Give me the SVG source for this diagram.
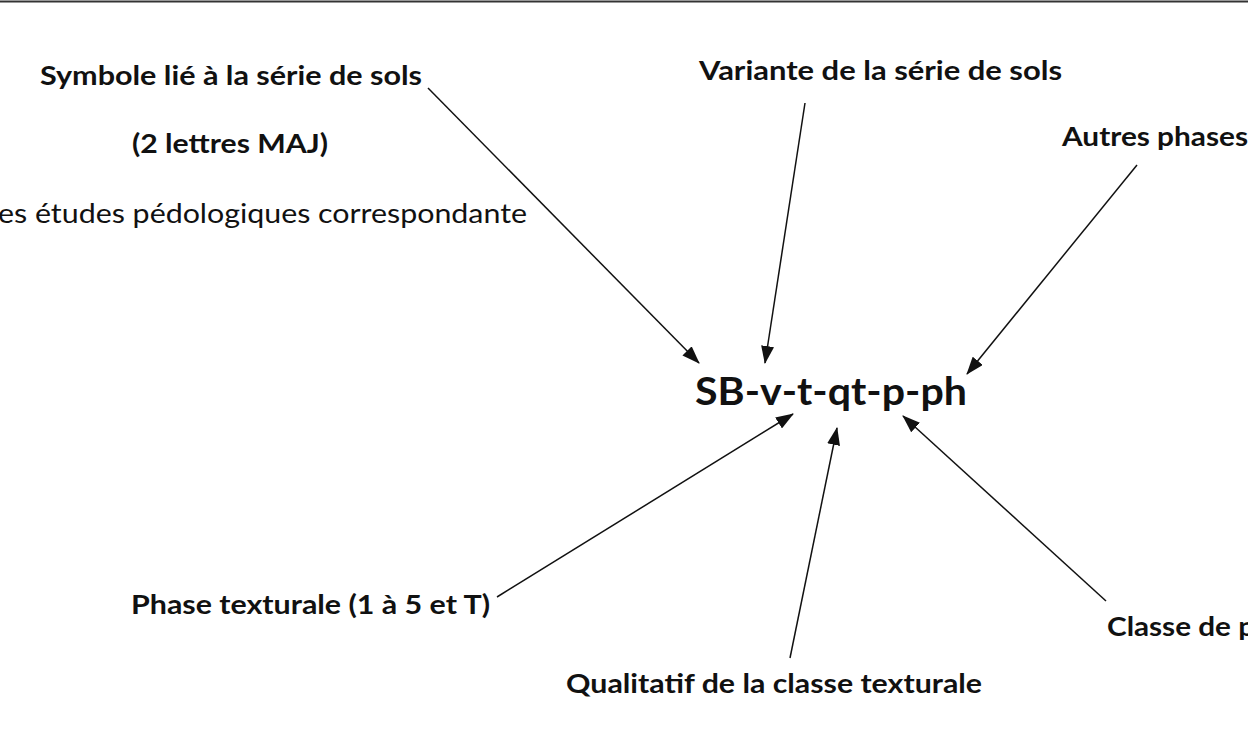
<svg xmlns="http://www.w3.org/2000/svg" width="1248" height="729" viewBox="0 0 1248 729">
<style>
.b{font-family:Lato,"Liberation Sans",sans-serif;font-weight:bold;font-size:26px;fill:#111}
.r{font-family:Lato,"Liberation Sans",sans-serif;font-size:26px;fill:#111}
.c{stroke:#111;stroke-width:1.5;fill:none;marker-end:url(#ah)}
</style>
<defs>
<marker id="ah" markerWidth="18" markerHeight="13" refX="17" refY="6.5" orient="auto" markerUnits="userSpaceOnUse" viewBox="0 0 18 13">
<path d="M0,0 L18,6.5 L0,13 Z" fill="#111"/>
</marker>
</defs>
<rect width="1248" height="729" fill="#fff"/>
<line x1="0" y1="1.5" x2="1248" y2="1.5" stroke="#333" stroke-width="2"/>
<g id="connectors">
<line class="c" x1="428" y1="88" x2="699" y2="363"/>
<line class="c" x1="805" y1="103" x2="765" y2="363"/>
<line class="c" x1="1137" y1="165" x2="967" y2="374"/>
<line class="c" x1="497" y1="597" x2="793" y2="414"/>
<line class="c" x1="790" y1="658" x2="837" y2="428"/>
<line class="c" x1="1106" y1="601" x2="903" y2="416"/>
</g>
<g id="node-symbole">
<text class="b" x="40" y="85" textLength="382" lengthAdjust="spacingAndGlyphs">Symbole lié à la série de sols</text>
<text class="b" x="132" y="153" textLength="196" lengthAdjust="spacingAndGlyphs">(2 lettres MAJ)</text>
<text class="r" x="527" y="223" text-anchor="end" textLength="529" lengthAdjust="spacingAndGlyphs">es études pédologiques correspondante</text>
</g>
<g id="node-variante">
<text class="b" x="699" y="80" textLength="363" lengthAdjust="spacingAndGlyphs">Variante de la série de sols</text>
</g>
<g id="node-autres">
<text class="b" x="1062" y="146" textLength="186" lengthAdjust="spacingAndGlyphs">Autres phases</text>
</g>
<g id="node-code">
<text class="b" x="695" y="405" style="font-size:39px" textLength="272" lengthAdjust="spacingAndGlyphs">SB-v-t-qt-p-ph</text>
</g>
<g id="node-phase">
<text class="b" x="131" y="614" textLength="359" lengthAdjust="spacingAndGlyphs">Phase texturale (1 à 5 et T)</text>
</g>
<g id="node-qualitatif">
<text class="b" x="566" y="693" textLength="416" lengthAdjust="spacingAndGlyphs">Qualitatif de la classe texturale</text>
</g>
<g id="node-classe">
<text class="b" x="1107" y="636" textLength="148" lengthAdjust="spacingAndGlyphs">Classe de p</text>
</g>
</svg>
